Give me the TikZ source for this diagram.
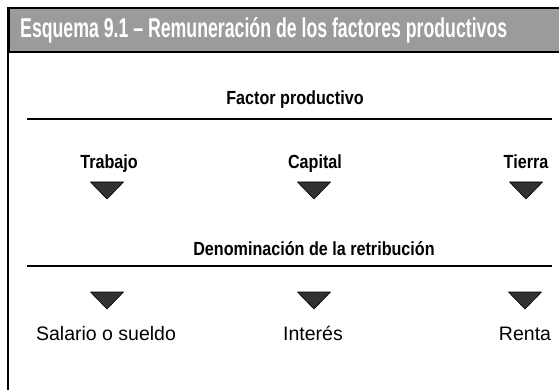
\documentclass[tikz,border=0pt]{standalone}
\usepackage{fontspec}
\setmainfont{Liberation Sans}
\usepackage{graphicx}
\usetikzlibrary{calc}
\definecolor{titleGray}{RGB}{155,155,155}
\definecolor{markDark}{RGB}{50,50,50}
\tikzset{
  titlebar/.style={fill=titleGray, draw=black, line width=1.5pt},
  heading/.style={font=\fontsize{19}{22}\selectfont\bfseries, inner sep=0pt, anchor=base},
  result/.style={font=\fontsize{19.5}{22}\selectfont, inner sep=0pt, anchor=base},
  rulebar/.style={line width=1.6pt},
  marker/.style={fill=markDark, draw=black, line width=0.6pt, line join=round}
}
\newcommand{\narrow}[1]{\scalebox{0.85}[1]{#1}}
\newcommand{\downmark}[1]{\draw[marker] ($(#1)+(-16.5,0)$) -- ++(33,0) -- ++(-16.5,17) -- cycle;}
\begin{document}
\begin{tikzpicture}[x=1pt,y=-1pt]
  \useasboundingbox (0,0) rectangle (559,390);
  \fill[white] (0,0) rectangle (559,390);

  % frame and title bar
  \draw[titlebar] (9,8) rectangle (566,52);
  \draw[line width=2pt] (8,7) -- (8,390);
  \node[anchor=base west, inner sep=0pt, text=white] (title) at (20,38)
    {\resizebox{487pt}{20pt}{\bfseries Esquema 9.1 -- Remuneración de los factores productivos}};

  % factors
  \node[heading] (factor) at (295,105) {\narrow{Factor productivo}};
  \draw[rulebar] (27,119) -- (552,119);
  \node[heading] (trabajo) at (109,168) {\narrow{Trabajo}};
  \node[heading] (capital) at (315,168) {\narrow{Capital}};
  \node[heading] (tierra) at (526,168) {\narrow{Tierra}};
  \downmark{107,182}
  \downmark{314,182}
  \downmark{526,182}

  % retribution
  \node[heading] (denom) at (314,255) {\narrow{Denominación de la retribución}};
  \draw[rulebar] (27,266) -- (552,266);
  \downmark{107,292}
  \downmark{314,292}
  \downmark{525,292}
  \node[result] (salario) at (106,340) {Salario o sueldo};
  \node[result] (interes) at (313,340) {Interés};
  \node[result] (renta) at (525,340) {Renta};
\end{tikzpicture}
\end{document}
